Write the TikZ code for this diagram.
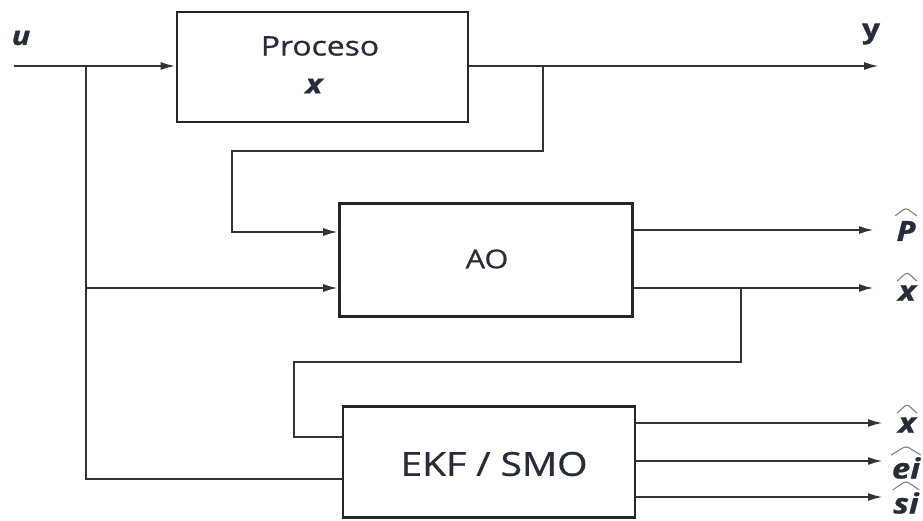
\documentclass[tikz,border=0pt]{standalone}
\usepackage{fontspec}
\setmainfont[FakeStretch=1.18,FakeBold=0.8]{Open Sans}
\usetikzlibrary{arrows.meta}
\definecolor{txt}{HTML}{262C3A}
\tikzset{
  blk/.style={draw=black!85, line width=2.6pt, fill=white, inner sep=0pt},
  wire/.style={draw=black!80, line width=2.2pt},
  arr/.style={wire, -{Latex[length=15pt,width=8pt]}},
  lbl/.style={text=txt, font=\fontsize{28}{30}\selectfont\bfseries\itshape, inner sep=0pt},
  btxt/.style={text=txt, inner sep=0pt},
  hat/.style={draw=black!50, line width=1.1pt, rounded corners=3pt}
}
\begin{document}
\begin{tikzpicture}[x=1pt,y=-1pt]
\useasboundingbox (0,0) rectangle (923,521);
% boxes
\node[blk, minimum width=291pt, minimum height=110pt] (proc) at (322.5,67) {};
\node[btxt, font=\fontsize{27}{29}\selectfont] (proct) at (320,46) {Proceso};
\node[lbl, font=\fontsize{27}{29}\selectfont\bfseries\itshape] (procx) at (314,86) {x};
\node[blk, minimum width=293pt, minimum height=113pt] (ao) at (486,260) {};
\node[btxt, font=\fontsize{26}{28}\selectfont] (aot) at (487,259) {AO};
\node[blk, minimum width=292pt, minimum height=111pt] (ekf) at (489,462) {};
\node[btxt, font=\fontsize{33}{35}\selectfont] (ekft) at (494,464) {EKF / SMO};
% labels
\node[lbl, font=\fontsize{26}{28}\selectfont\bfseries\itshape] (ul) at (21,38) {u};
\node[btxt, font=\fontsize{27}{29}\selectfont\bfseries] (yl) at (871,34) {y};
\node[lbl] (ph) at (906,231) {P};
\node[lbl] (xh1) at (907,293) {x};
\node[lbl] (xh2) at (907,425) {x};
\node[lbl] (eh) at (906,468) {ei};
\node[lbl] (sh) at (906,503) {si};
% hats
\draw[hat] ([xshift=-1pt,yshift=5pt]ph.north west) -- ([yshift=13pt]ph.north) -- ([xshift=1pt,yshift=5pt]ph.north east);
\foreach \n in {xh1,xh2}{
  \draw[hat] ([xshift=-1pt,yshift=4pt]\n.north west) -- ([yshift=13pt]\n.north) -- ([xshift=1pt,yshift=4pt]\n.north east);
}
\foreach \n in {eh,sh}{
  \draw[hat] ([xshift=-0.5pt,yshift=2pt]\n.north west) -- ([yshift=11pt]\n.north) -- ([xshift=0.5pt,yshift=2pt]\n.north east);
}
% coordinates
\coordinate (uin) at (14,66);
\coordinate (b1) at (86,66);
\coordinate (yout) at (879,66);
\coordinate (pout) at (874,230);
\coordinate (xout1) at (874,288);
\coordinate (xout2) at (883,423);
\coordinate (eout) at (883,461);
\coordinate (sout) at (883,497);
% wires
\draw[arr] (uin) -- (proc.west |- uin);
\draw[wire] (b1) |- (ekf.west |- 0,479);
\draw[arr] (86,288) -- (ao.west |- 0,288);
\draw[arr] (proc.east |- yout) -- (yout);
\draw[arr] (543,66) -- (543,151) -- (232,151) -- (232,232) -- (ao.west |- 0,232);
\draw[arr] (ao.east |- pout) -- (pout);
\draw[arr] (ao.east |- xout1) -- (xout1);
\draw[wire] (741,288) -- (741,362) -- (294,362) -- (294,437) -- (ekf.west |- 0,437);
\draw[arr] (ekf.east |- xout2) -- (xout2);
\draw[arr] (ekf.east |- eout) -- (eout);
\draw[arr] (ekf.east |- sout) -- (sout);
\end{tikzpicture}
\end{document}
